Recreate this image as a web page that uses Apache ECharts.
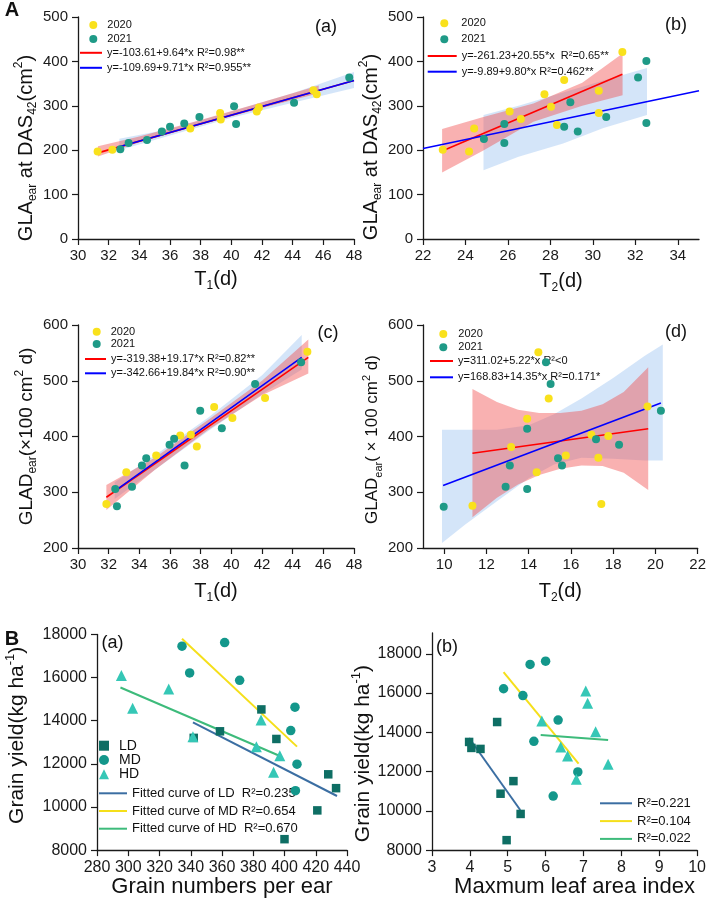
<!DOCTYPE html>
<html><head><meta charset="utf-8">
<script src="https://cdn.jsdelivr.net/npm/echarts@6/dist/echarts.min.js"></script>
<style>html,body{margin:0;padding:0;background:#fff}#c{width:709px;height:899px}</style>
</head><body><div id="c"></div>
<script>
// ===== Panel A(a): GLAear at DAS42 vs T1 =====
const aX2020 = [31.28, 32.24, 37.32, 39.27, 39.31, 41.66, 41.80, 45.35, 45.57];
const aY2020 = [197, 201, 249, 284, 269, 287, 296, 335, 326];
const aX2021 = [32.76, 33.30, 34.50, 35.47, 36.00, 36.93, 37.92, 40.18, 40.31, 44.09, 47.69];
const aY2021 = [202, 216, 223, 242, 253, 260, 275, 299, 259, 307, 364];
const aRedX = [31.3, 48.0], aRedY = [194, 357];
const aBlueX = [32.7, 48.0], aBlueY = [208, 357];
const aRedBandX = [31.3, 34, 38, 42, 45.7];
const aRedBandLo = [186, 218, 258, 295, 328];
const aRedBandHi = [209, 231, 268, 308, 346];
const aBlueBandX = [32.7, 36, 40, 44, 48];
const aBlueBandLo = [200, 233, 273, 307, 340];
const aBlueBandHi = [226, 248, 287, 328, 376];

// ===== Panel A(b): GLAear at DAS42 vs T2 =====
const bX2020 = [22.93, 24.17, 24.41, 26.08, 26.61, 27.72, 28.03, 28.31, 28.65, 30.28, 30.28, 31.39];
const bY2020 = [201, 197, 249, 287, 270, 326, 298, 257, 358, 334, 284, 421];
const bX2021 = [24.87, 25.83, 25.83, 28.65, 28.94, 29.29, 30.63, 32.13, 32.52, 32.52];
const bY2021 = [225, 259, 216, 253, 308, 242, 275, 364, 401, 261];
const bRedX = [22.93, 31.39], bRedY = [199, 371];
const bBlueX = [22.0, 35.0], bBlueY = [204, 334];
const bRedBandX = [22.9, 24.8, 27.2, 29.5, 31.4];
const bRedBandLo = [150, 198, 264, 300, 324];
const bRedBandHi = [248, 274, 305, 352, 418];
const bBlueBandX = [24.85, 26.5, 28.6, 30.5, 32.55];
const bBlueBandLo = [155, 185, 215, 250, 279];
const bBlueBandHi = [279, 300, 330, 357, 385];

// ===== Panel A(c): GLADear vs T1 =====
const cX2020 = [31.85, 33.15, 35.10, 36.67, 37.36, 37.75, 38.88, 40.07, 42.20, 44.96];
const cY2020 = [279, 336, 366, 402, 403, 382, 453, 433, 469, 552];
const cX2021 = [32.43, 32.54, 33.52, 34.17, 34.45, 35.97, 36.27, 36.95, 37.97, 39.38, 41.55, 44.55];
const cY2021 = [306, 275, 310, 348, 361, 385, 396, 348, 446, 415, 494, 533];
const cRedX = [31.85, 45.02], cRedY = [291, 542];
const cBlueX = [32.39, 44.59], cBlueY = [302, 542];
const cRedBandX = [31.85, 35, 38.5, 42, 45.02];
const cRedBandLo = [268, 340, 412, 474, 513];
const cRedBandHi = [313, 362, 430, 500, 574];
const cBlueBandX = [32.39, 35, 38.5, 42, 44.59];
const cBlueBandLo = [288, 340, 410, 476, 520];
const cBlueBandHi = [318, 366, 434, 510, 582];

// ===== Panel A(d): GLADear vs T2 =====
const dX2020 = [11.34, 13.17, 13.93, 14.38, 14.46, 14.95, 15.76, 16.97, 17.30, 17.44, 17.77, 19.63];
const dY2020 = [276, 381, 432, 336, 551, 468, 366, 403, 362, 279, 401, 454];
const dX2021 = [9.98, 12.91, 13.11, 13.93, 13.93, 14.82, 15.04, 15.39, 15.58, 17.19, 18.28, 20.26];
const dY2021 = [274, 310, 348, 414, 306, 533, 494, 361, 348, 395, 385, 446];
const dRedX = [11.34, 19.66], dRedY = [370, 414];
const dBlueX = [9.95, 20.26], dBlueY = [312, 460];
const dRedBandX = [11.34, 12.5, 13.5, 14.5, 15.5, 16.5, 17.5, 18.5, 19.66];
const dRedBandLo = [255, 290, 314, 331, 342, 348, 347, 335, 304];
const dRedBandHi = [485, 462, 448, 442, 442, 446, 458, 480, 524];
const dBlueBandX = [9.9, 11, 12.5, 14, 15.2, 16.5, 18, 19.5, 20.35];
const dBlueBandLo = [209, 242, 284, 325, 350, 362, 360, 357, 357];
const dBlueBandHi = [412, 412, 412, 420, 440, 468, 505, 545, 565];

// ===== Panel B: grain yield =====
const ldYield = [14525, 13510, 13205, 13155, 11515, 10873, 9842, 8507];
const mdYield = [17458, 17627, 16220, 15875, 14627, 13543, 11983, 10755];
const hdYield = [16102, 14576, 15475, 13254, 14034, 12797, 11610, 12373];
const ldGrain = [385.2, 358.7, 341.9, 394.8, 428.0, 433.0, 421.0, 400.0];
const mdGrain = [334.4, 361.7, 339.3, 371.3, 406.7, 404.0, 408.0, 407.0];
const hdGrain = [295.6, 302.8, 325.9, 341.4, 385.0, 382.0, 393.0, 397.0];
const ldLai = [4.72, 3.98, 4.04, 4.28, 5.15, 4.81, 5.34, 4.97];
const mdLai = [5.59, 6.00, 4.89, 5.40, 6.33, 5.69, 6.85, 6.20];
const hdLai = [7.06, 5.90, 7.11, 6.40, 7.32, 6.58, 6.81, 7.65];
const fitLdGrainX = [341.4, 433.6], fitLdGrainY = [13920, 10510];
const fitMdGrainX = [334.4, 408.0], fitMdGrainY = [17800, 12800];
const fitHdGrainX = [295.0, 397.8], fitHdGrainY = [15540, 12340];
const fitLdLaiX = [3.98, 5.33], fitLdLaiY = [13712, 10045];
const fitMdLaiX = [4.89, 6.87], fitMdLaiY = [17068, 12407];
const fitHdLaiX = [5.87, 7.65], fitHdLaiY = [13864, 13610];

// ===== tick labels =====
const ticksT1 = [30, 32, 34, 36, 38, 40, 42, 44, 46, 48];
const ticksT2b = [22, 24, 26, 28, 30, 32, 34];
const ticksT2d = [10, 12, 14, 16, 18, 20, 22];
const ticksGLA = [0, 100, 200, 300, 400, 500];
const ticksGLAD = [200, 300, 400, 500, 600];
const ticksGrain = [280, 300, 320, 340, 360, 380, 400, 420, 440];
const ticksLai = [3, 4, 5, 6, 7, 8, 9, 10];
const ticksYield = [8000, 10000, 12000, 14000, 16000, 18000];

const FONT = 'Liberation Sans, Arial, Helvetica, sans-serif';
const C2020 = '#F9E11C', C2021 = '#1F9A87';
const RED = '#FF0000', BLUE = '#0000FF';
const RED_BAND = 'rgba(240,70,70,0.42)', BLUE_BAND = 'rgba(120,175,235,0.32)';
const C_LD = '#0E6E64', C_MD = '#13978B', C_HD = '#35C7B6';
const L_LD = '#3B6EA2', L_MD = '#F5DF1A', L_HD = '#3DBB7B';

function pts(xs, ys) { return xs.map((x, i) => [x, ys[i]]); }
function scatter(name, xs, ys, gi, color, symbol, size) {
  return {type: 'scatter', name, xAxisIndex: gi, yAxisIndex: gi, data: pts(xs, ys),
    symbol, symbolSize: size, itemStyle: {color, opacity: 1}, z: 4, silent: true};
}
function fit(name, xs, ys, gi, color, width) {
  return {type: 'line', name, xAxisIndex: gi, yAxisIndex: gi, data: pts(xs, ys),
    symbol: 'none', lineStyle: {color, width}, itemStyle: {color}, z: 3, silent: true};
}
function band(xs, lo, hi, gi, color) {
  const data = xs.map((x, i) => [x, lo[i], hi[i]]);
  return {type: 'custom', xAxisIndex: gi, yAxisIndex: gi, silent: true, z: 1,
    data, encode: {x: 0, y: [1, 2]},
    renderItem: function (params, api) {
      if (params.dataIndex !== 0) return null;
      const p = [];
      for (let i = 0; i < data.length; i++) p.push(api.coord([data[i][0], data[i][1]]));
      for (let i = data.length - 1; i >= 0; i--) p.push(api.coord([data[i][0], data[i][2]]));
      return {type: 'polygon', shape: {points: p}, style: {fill: color}};
    }};
}
function richName(fs, padding) {
  const sub = Math.round(fs * 0.62);
  return {fontSize: fs, fontFamily: FONT, color: '#111', padding: padding || [0, 0, 0, 0],
    rich: {
      m: {fontSize: fs, fontFamily: FONT, color: '#111', lineHeight: fs + 6, verticalAlign: 'middle'},
      s: {fontSize: sub, fontFamily: FONT, color: '#111', lineHeight: sub + 2, verticalAlign: 'bottom'},
      p: {fontSize: sub, fontFamily: FONT, color: '#111', lineHeight: sub + 2, verticalAlign: 'top'}
    }};
}
function axis(gi, min, max, ticks, isY, name, nameGap, nameStyle, fs) {
  return {type: 'value', gridIndex: gi, min, max,
    axisLine: {show: true, onZero: false, lineStyle: {color: '#1a1a1a', width: 1.3}},
    axisTick: {show: true, length: 6, inside: false, customValues: ticks, lineStyle: {color: '#1a1a1a', width: 1.2}},
    axisLabel: {show: true, customValues: ticks, formatter: v => String(v), fontSize: fs || 15,
      color: '#1a1a1a', fontFamily: FONT, margin: isY ? 10 : 9},
    splitLine: {show: false},
    name, nameLocation: 'middle', nameGap, nameRotate: isY ? 90 : 0, nameTextStyle: nameStyle};
}
function legend(names, left, top, iw, ih, gap, fs, lh, textPad, icon) {
  return {show: true, orient: 'vertical', left, top, padding: 0, selectedMode: false,
    data: names.map(n => icon ? {name: n, icon} : {name: n}),
    itemWidth: iw, itemHeight: ih, itemGap: gap,
    textStyle: {fontSize: fs, color: '#111', fontFamily: FONT, lineHeight: lh, padding: [0, 0, 0, textPad]}};
}
function label(text, x, y, fs, bold) {
  return {type: 'text', x, y, silent: true,
    style: {text, fontSize: fs, fontWeight: bold ? 'bold' : 'normal', fontFamily: FONT, fill: '#111',
      align: 'center', verticalAlign: 'middle', textAlign: 'center', textVerticalAlign: 'middle'}};
}

const eqA = ['y=-103.61+9.64*x R²=0.98**', 'y=-109.69+9.71*x R²=0.955**'];
const eqB = ['y=-261.23+20.55*x  R²=0.65**', 'y=-9.89+9.80*x R²=0.462**'];
const eqC = ['y=-319.38+19.17*x R²=0.82**', 'y=-342.66+19.84*x R²=0.90**'];
const eqD = ['y=311.02+5.22*x R²<0', 'y=168.83+14.35*x R²=0.171*'];
const fitNamesGrain = ['Fitted curve of LD  R²=0.235', 'Fitted curve of MD R²=0.654', 'Fitted curve of HD  R²=0.670'];
const fitNamesLai = ['R²=0.221', 'R²=0.104', 'R²=0.022'];

const nameGLA = '{m|GLA}{s|ear}{m| at DAS}{s|42}{m|(cm}{p|2}{m|)}';
const nameGLADc = '{m|GLAD}{s|ear}{m|(×100 cm}{p|2}{m| d)}';
const nameGLADd = '{m|GLAD}{s|ear}{m|( × 100 cm}{p|2}{m| d)}';
const nameT1 = '{m|T}{s|1}{m|(d)}';
const nameT2 = '{m|T}{s|2}{m|(d)}';
const nameYield = '{m|Grain yield(kg ha}{p|-1}{m|)}';

const option = {
  animation: false,
  backgroundColor: '#ffffff',
  textStyle: {fontFamily: FONT},
  grid: [
    {left: 78, top: 17, width: 276, height: 222},
    {left: 423, top: 17, width: 276, height: 222},
    {left: 78, top: 325, width: 276, height: 223},
    {left: 423, top: 325, width: 276, height: 223},
    {left: 97, top: 634.5, width: 250, height: 217.2},
    {left: 432, top: 633, width: 267.3, height: 218.7}
  ],
  xAxis: [
    axis(0, 30, 48, ticksT1, false, nameT1, 27, richName(20)),
    axis(1, 22, 35, ticksT2b, false, nameT2, 29, richName(20)),
    axis(2, 30, 48, ticksT1, false, nameT1, 30, richName(20)),
    axis(3, 9, 22, ticksT2d, false, nameT2, 30, richName(20)),
    axis(4, 280, 440, ticksGrain, false, 'Grain numbers per ear', 20,
      {fontSize: 22, fontFamily: FONT, color: '#111'}, 16),
    axis(5, 3, 10, ticksLai, false, 'Maxmum leaf area index', 20,
      {fontSize: 22, fontFamily: FONT, color: '#111', padding: [0, 0, 0, 20]}, 16)
  ],
  yAxis: [
    axis(0, 0, 500, ticksGLA, true, nameGLA, 37, richName(20, [0, 40, 0, 0])),
    axis(1, 0, 500, ticksGLA, true, nameGLA, 35, richName(20, [0, 38, 0, 0])),
    axis(2, 200, 600, ticksGLAD, true, nameGLADc, 37, richName(19)),
    axis(3, 200, 600, ticksGLAD, true, nameGLADd, 36, richName(17, [0, 6, 0, 0])),
    axis(4, 8000, 18000, ticksYield, true, nameYield, 66, richName(21, [0, 0, 0, 14]), 16),
    axis(5, 8000, 19060, ticksYield, true, nameYield, 55, richName(21, [0, 24, 0, 0]), 16)
  ],
  legend: [
    legend(['2020', '2021'], 89.3, 18, 8, 8, 0, 11, 14, 5, 'circle'),
    legend(eqA, 80, 45.8, 22, 2, 1, 11, 14, 0, 'rect'),
    legend(['2020', '2021'], 440.3, 16.3, 8, 8, 2, 11, 14, 8, 'circle'),
    legend(eqB, 427.7, 49, 29, 2, 1.7, 11, 14, 0, 'rect'),
    legend(['2020', '2021'], 92.7, 325.7, 8, 8, 0.3, 11, 12, 5, 'circle'),
    legend(eqC, 85, 352, 21, 2, 0.3, 11, 14, 0, 'rect'),
    legend(['2020', '2021'], 439.3, 327.5, 8, 8, 0.3, 11, 13, 6, 'circle'),
    legend(eqD, 430, 354, 23, 2, 2.3, 11, 14, 0, 'rect'),
    legend(['LD', 'MD', 'HD'], 99, 738.7, 10, 10, 0.3, 14, 14, 5),
    legend(fitNamesGrain, 99, 785.3, 28, 2, 1.7, 13, 16, 0, 'rect'),
    legend(fitNamesLai, 600, 795.3, 32, 2, 1.8, 13, 16, 0, 'rect')
  ],
  graphic: [
    label('A', 12, 10, 20, true),
    label('B', 12, 639.5, 20, true),
    label('(a)', 326, 26.7, 18),
    label('(b)', 676, 25, 18),
    label('(c)', 328, 333, 18),
    label('(d)', 676, 332, 18),
    label('(a)', 112.5, 643, 18),
    label('(b)', 447, 646.7, 18)
  ],
  series: [
    // A(a)
    band(aBlueBandX, aBlueBandLo, aBlueBandHi, 0, BLUE_BAND),
    band(aRedBandX, aRedBandLo, aRedBandHi, 0, RED_BAND),
    fit(eqA[0], aRedX, aRedY, 0, RED, 1.6),
    fit(eqA[1], aBlueX, aBlueY, 0, BLUE, 1.6),
    scatter('2020', aX2020, aY2020, 0, C2020, 'circle', 8),
    scatter('2021', aX2021, aY2021, 0, C2021, 'circle', 8),
    // A(b)
    band(bBlueBandX, bBlueBandLo, bBlueBandHi, 1, BLUE_BAND),
    band(bRedBandX, bRedBandLo, bRedBandHi, 1, RED_BAND),
    fit(eqB[0], bRedX, bRedY, 1, RED, 1.6),
    fit(eqB[1], bBlueX, bBlueY, 1, BLUE, 1.6),
    scatter('2020', bX2020, bY2020, 1, C2020, 'circle', 8),
    scatter('2021', bX2021, bY2021, 1, C2021, 'circle', 8),
    // A(c)
    band(cBlueBandX, cBlueBandLo, cBlueBandHi, 2, BLUE_BAND),
    band(cRedBandX, cRedBandLo, cRedBandHi, 2, RED_BAND),
    fit(eqC[0], cRedX, cRedY, 2, RED, 1.6),
    fit(eqC[1], cBlueX, cBlueY, 2, BLUE, 1.6),
    scatter('2020', cX2020, cY2020, 2, C2020, 'circle', 8),
    scatter('2021', cX2021, cY2021, 2, C2021, 'circle', 8),
    // A(d)
    band(dBlueBandX, dBlueBandLo, dBlueBandHi, 3, BLUE_BAND),
    band(dRedBandX, dRedBandLo, dRedBandHi, 3, RED_BAND),
    fit(eqD[0], dRedX, dRedY, 3, RED, 1.6),
    fit(eqD[1], dBlueX, dBlueY, 3, BLUE, 1.6),
    scatter('2020', dX2020, dY2020, 3, C2020, 'circle', 8),
    scatter('2021', dX2021, dY2021, 3, C2021, 'circle', 8),
    // B(a)
    scatter('LD', ldGrain, ldYield, 4, C_LD, 'rect', 8.5),
    scatter('MD', mdGrain, mdYield, 4, C_MD, 'circle', 9.5),
    scatter('HD', hdGrain, hdYield, 4, C_HD, 'triangle', 11),
    fit(fitNamesGrain[0], fitLdGrainX, fitLdGrainY, 4, L_LD, 2),
    fit(fitNamesGrain[1], fitMdGrainX, fitMdGrainY, 4, L_MD, 2),
    fit(fitNamesGrain[2], fitHdGrainX, fitHdGrainY, 4, L_HD, 2),
    // B(b)
    scatter('LD', ldLai, ldYield, 5, C_LD, 'rect', 8.5),
    scatter('MD', mdLai, mdYield, 5, C_MD, 'circle', 9.5),
    scatter('HD', hdLai, hdYield, 5, C_HD, 'triangle', 11),
    fit(fitNamesLai[0], fitLdLaiX, fitLdLaiY, 5, L_LD, 2),
    fit(fitNamesLai[1], fitMdLaiX, fitMdLaiY, 5, L_MD, 2),
    fit(fitNamesLai[2], fitHdLaiX, fitHdLaiY, 5, L_HD, 2)
  ]
};
const chart = echarts.init(document.getElementById('c'), null, {renderer: 'canvas'});
chart.setOption(option);
</script></body></html>
